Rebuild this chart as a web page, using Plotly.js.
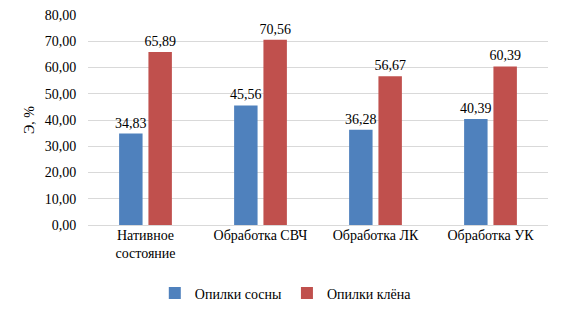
<!DOCTYPE html>
<html><head><meta charset="utf-8">
<script src="https://cdn.plot.ly/plotly-3.0.1.min.js"></script>
<style>html,body{margin:0;padding:0;background:#fff}</style>
</head><body>
<div id="chart" style="width:563px;height:322px"></div>
<script>
const categories = ["Нативное<br>состояние", "Обработка СВЧ", "Обработка ЛК", "Обработка УК"];
const pine = [34.83, 45.56, 36.28, 40.39];
const maple = [65.89, 70.56, 56.67, 60.39];
const seriesNames = ["Опилки сосны", "Опилки клёна"];
const yTicks = [0, 10, 20, 30, 40, 50, 60, 70, 80];
const yTickText = yTicks.map(v => v.toFixed(2).replace('.', ','));
const fmt = v => v.toFixed(2).replace('.', ',');
const font = {family: "Liberation Serif", size: 14, color: "#000"};
const traces = [
  {type: "bar", name: seriesNames[0], x: categories, y: pine, marker: {color: "#4F81BD"},
   text: pine.map(fmt), textposition: "outside", constraintext: "none", textfont: font, cliponaxis: false, hoverinfo: "none"},
  {type: "bar", name: seriesNames[1], x: categories, y: maple, marker: {color: "#C0504D"},
   text: maple.map(fmt), textposition: "outside", constraintext: "none", textfont: font, cliponaxis: false, hoverinfo: "none"}
];
const layout = {
  width: 563, height: 322,
  margin: {l: 88, r: 15, t: 15, b: 89},
  font: font,
  paper_bgcolor: "#fff", plot_bgcolor: "#fff",
  barmode: "group", bargap: 0.49, bargroupgap: 0.2,
  showlegend: true,
  legend: {orientation: "h", x: 0.43, xanchor: "center", y: -0.25, yanchor: "top", font: font, itemwidth: 30, traceorder: "normal"},
  xaxis: {tickfont: font, showgrid: false, zeroline: false, showline: false, ticks: ""},
  yaxis: {range: [0, 80], tickvals: yTicks, ticktext: yTickText, tickfont: font,
    showgrid: true, gridcolor: "#D9D9D9", gridwidth: 1, zeroline: true, zerolinecolor: "#D9D9D9", zerolinewidth: 1,
    showline: false, ticks: "outside", ticklen: 8, tickcolor: "rgba(0,0,0,0)", title: {text: "Э, %", font: font, standoff: 6}}
};
Plotly.newPlot("chart", traces, layout, {displayModeBar: false, staticPlot: true});
</script>
</body></html>
